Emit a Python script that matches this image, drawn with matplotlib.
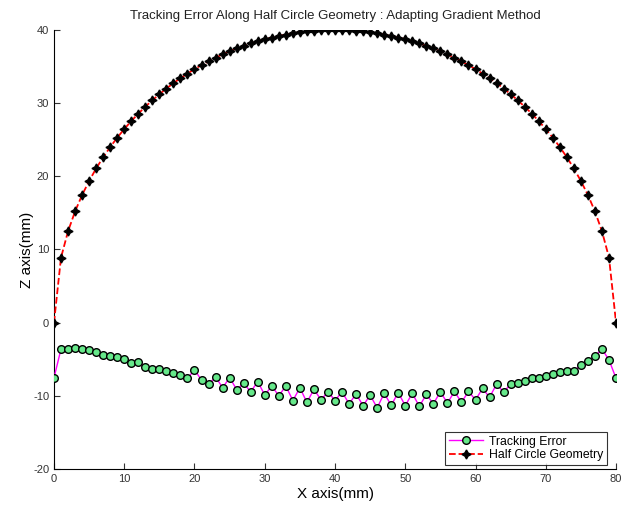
import matplotlib.pyplot as plt

plt.rcParams['font.family'] = ['Liberation Sans', 'DejaVu Sans']
plt.rcParams['axes.unicode_minus'] = False

# x positions (mm), one point per mm
x_mm = list(range(0, 81))

# half circle geometry, radius 40 centred at x=40 (left half, then mirrored)
half_z = [0.0, 8.89, 12.49, 15.20, 17.44, 19.36, 21.07, 22.61, 24.00, 25.28,
          26.46, 27.55, 28.57, 29.51, 30.40, 31.22, 32.00, 32.73, 33.41, 34.04,
          34.64, 35.20, 35.72, 36.21, 36.66, 37.08, 37.47, 37.83, 38.16, 38.46,
          38.73, 38.97, 39.19, 39.38, 39.55, 39.69, 39.80, 39.89, 39.95, 39.99,
          40.0]
circle_z = half_z + half_z[-2::-1]

# tracking error (mm)
tracking_err = [-7.55, -3.6, -3.55, -3.45, -3.6, -3.7, -4.0, -4.45, -4.6, -4.7,
                -5.0, -5.45, -5.35, -6.1, -6.3, -6.35, -6.55, -6.9, -7.2, -7.6,
                -6.45, -7.85, -8.45, -7.4, -8.9, -7.5, -9.15, -8.3, -9.45, -8.05,
                -9.9, -8.65, -10.0, -8.65, -10.65, -8.9, -10.9, -9.1, -10.55, -9.45,
                -10.65, -9.45, -11.1, -9.75, -11.35, -9.9, -11.65, -9.65, -11.3, -9.55,
                -11.35, -9.65, -11.45, -9.8, -11.1, -9.45, -11.0, -9.4, -10.9, -9.4,
                -10.55, -9.0, -10.2, -8.4, -9.5, -8.4, -8.2, -7.95, -7.55, -7.55,
                -7.25, -6.95, -6.8, -6.6, -6.6, -5.8, -5.3, -4.6, -3.6, -5.1,
                -7.6]

fig = plt.figure(figsize=(6.22, 5.08), dpi=100)
ax = fig.add_axes([0.0868, 0.0768, 0.9036, 0.8642])

ax.plot(x_mm, tracking_err, color='magenta', lw=1, marker='o', ms=5.5,
        mfc='#66e88a', mec='black', mew=1, label='Tracking Error', zorder=3)
ax.plot(x_mm, circle_z, color='red', lw=1.3, ls='--', marker=(4, 1, 0), ms=6.5,
        mfc='black', mec='black', label='Half Circle Geometry', zorder=3)

ax.set_xlim(0, 80)
ax.set_ylim(-20, 40)
ax.set_xticks(range(0, 81, 10))
ax.set_yticks(range(-20, 41, 10))
ax.tick_params(direction='in', length=4, labelsize=8, colors='#333333')
ax.spines['top'].set_visible(False)
ax.spines['right'].set_visible(False)

ax.set_title('Tracking Error Along Half Circle Geometry : Adapting Gradient Method',
             fontsize=9.5, color='#222222', pad=8)
ax.set_xlabel('X axis(mm)', fontsize=11, labelpad=2)
ax.set_ylabel('Z axis(mm)', fontsize=11, labelpad=-1)

leg = ax.legend(loc='lower right', fontsize=8.8, frameon=True, fancybox=False,
                edgecolor='black', borderpad=0.3, labelspacing=0.15,
                handlelength=2.8, handletextpad=0.5,
                bbox_to_anchor=(0.995, -0.005))
leg.get_frame().set_linewidth(0.8)

fig.savefig('out.png', dpi=100)
